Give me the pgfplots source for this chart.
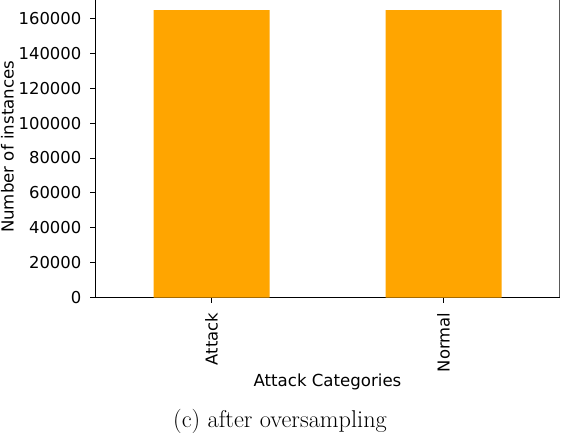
\documentclass[border=0pt]{standalone}
\usepackage{pgfplots}
\pgfplotsset{compat=1.18}
\usepackage{fontspec}
\newfontfamily\dejavu{DejaVu Sans}
\definecolor{mplorange}{HTML}{FFA500}
\begin{document}
\begin{tikzpicture}
\path[use as bounding box] (0,0) rectangle (562pt,432pt);
\begin{axis}[
  at={(95.5pt,134.3pt)}, anchor=south west,
  width=464pt, height=297.7pt, scale only axis,
  xmin=-0.5, xmax=1.5, ymin=0, ymax=170480,
  axis x line*=bottom, axis y line*=left,
  axis line style={line width=1pt, black},
  xtick={0,1}, xticklabels={Attack,Normal},
  ytick={0,20000,40000,60000,80000,100000,120000,140000,160000},
  yticklabels={0,20000,40000,60000,80000,100000,120000,140000,160000},
  scaled y ticks=false,
  tick align=outside, major tick length=5pt,
  every tick/.style={black, line width=1pt},
  tick label style={font=\dejavu\fontsize{16.4}{17}\selectfont},
  xticklabel style={rotate=90, anchor=east, inner sep=0pt, xshift=-10pt},
  yticklabel style={anchor=east, inner sep=0pt, xshift=-9pt},
  xlabel={Attack Categories},
  ylabel={Number of instances},
  label style={font=\dejavu\fontsize{16.6}{17}\selectfont},
  xlabel style={at={(rel axis cs:0.5,0)}, anchor=center, yshift=-84pt},
  ylabel style={at={(rel axis cs:0,0.5)}, anchor=center, xshift=2pt, yshift=88pt},
]
\addplot[ybar, bar width=0.5, fill=mplorange, draw=none] coordinates {(0,164750) (1,164750)};
\draw[line width=1pt, black] (rel axis cs:1,0) -- (rel axis cs:1,1);
\end{axis}
\node[font=\fontsize{24.3}{29}\selectfont] at (280pt,10.5pt) {(c) after oversampling};
\end{tikzpicture}
\end{document}
